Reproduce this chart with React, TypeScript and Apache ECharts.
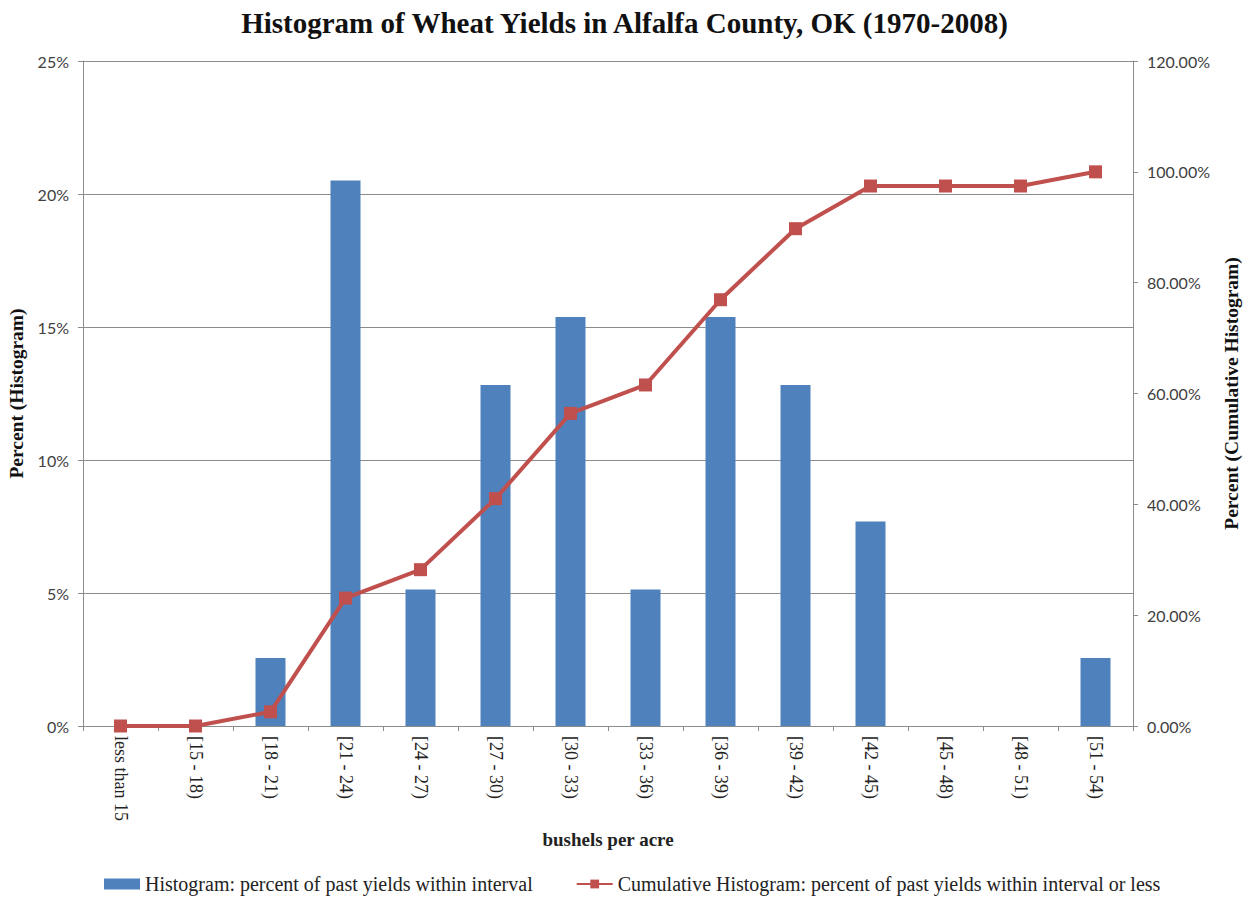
import React, { useEffect, useRef } from "react";
import * as echarts from "echarts";

// Yield intervals (bushels per acre)
const categories = [
  "less than 15",
  "[15 - 18)",
  "[18 - 21)",
  "[21 - 24)",
  "[24 - 27)",
  "[27 - 30)",
  "[30 - 33)",
  "[33 - 36)",
  "[36 - 39)",
  "[39 - 42)",
  "[42 - 45)",
  "[45 - 48)",
  "[48 - 51)",
  "[51 - 54)",
];

// Percent of the 39 seasons (1970-2008) falling in each interval
const histogramPct = [
  0, 0, 2.56, 20.51, 5.13, 12.82, 15.38, 5.13, 15.38, 12.82, 7.69, 0, 0, 2.56,
];

// Running total of the histogram
const cumulativePct = [
  0, 0, 2.56, 23.08, 28.21, 41.03, 56.41, 61.54, 76.92, 89.74, 97.44, 97.44,
  97.44, 100,
];

const SERIF = "Liberation Serif";
const SANS = "Lato";

export default function App() {
  const ref = useRef<HTMLDivElement>(null);

  useEffect(() => {
    if (!ref.current) return;
    const chart = echarts.init(ref.current, undefined, { renderer: "svg" });
    chart.setOption({
      animation: false,
      backgroundColor: "#ffffff",
      title: {
        text: "Histogram of Wheat Yields in Alfalfa County, OK (1970-2008)",
        left: "center",
        top: 3,
        textStyle: {
          fontFamily: SERIF,
          fontSize: 29,
          fontWeight: "bold",
          color: "#111111",
        },
      },
      grid: {
        left: 83,
        right: 116,
        top: 61,
        bottom: 175,
        containLabel: false,
        outerBoundsMode: "none",
      },
      legend: {
        bottom: 2,
        left: 99,
        itemGap: 43,
        itemWidth: 36,
        itemHeight: 11,
        textStyle: { fontFamily: SERIF, fontSize: 20, color: "#222222" },
        data: [
          {
            name: "Histogram: percent of past yields within interval",
            icon: "rect",
          },
          {
            name: "Cumulative Histogram: percent of past yields within interval or less",
          },
        ],
      },
      xAxis: {
        type: "category",
        data: categories,
        name: "bushels per acre",
        nameLocation: "middle",
        nameGap: 104,
        nameTextStyle: {
          fontFamily: SERIF,
          fontSize: 19,
          fontWeight: "bold",
          color: "#222222",
        },
        axisLine: { lineStyle: { color: "#8c8c8c", width: 1 } },
        axisTick: { show: true, length: 5, lineStyle: { color: "#8c8c8c" } },
        axisLabel: {
          rotate: -90,
          margin: 10,
          fontFamily: SERIF,
          fontSize: 18,
          color: "#222222",
        },
      },
      yAxis: [
        {
          type: "value",
          min: 0,
          max: 25,
          interval: 5,
          name: "Percent (Histogram)",
          nameLocation: "middle",
          nameGap: 57,
          nameTextStyle: {
            fontFamily: SERIF,
            fontSize: 19.5,
            fontWeight: "bold",
            color: "#111111",
          },
          axisLine: { show: true, lineStyle: { color: "#8c8c8c" } },
          axisTick: { show: true, length: 5, lineStyle: { color: "#8c8c8c" } },
          axisLabel: {
            formatter: "{value}%",
            fontFamily: SANS,
            fontSize: 16,
            color: "#404040",
            margin: 14,
          },
          splitLine: { lineStyle: { color: "#8c8c8c", width: 1 } },
        },
        {
          type: "value",
          min: 0,
          max: 120,
          interval: 20,
          name: "Percent (Cumulative Histogram)",
          nameLocation: "middle",
          nameGap: 88,
          nameRotate: 90,
          nameTextStyle: {
            fontFamily: SERIF,
            fontSize: 19.5,
            fontWeight: "bold",
            color: "#111111",
          },
          axisLine: { show: true, lineStyle: { color: "#8c8c8c" } },
          axisTick: { show: true, length: 5, lineStyle: { color: "#8c8c8c" } },
          axisLabel: {
            formatter: (v: number) => v.toFixed(2) + "%",
            fontFamily: SANS,
            fontSize: 16,
            color: "#404040",
            margin: 14,
          },
          splitLine: { show: false },
        },
      ],
      series: [
        {
          name: "Histogram: percent of past yields within interval",
          type: "bar",
          yAxisIndex: 0,
          data: histogramPct,
          barWidth: 30,
          itemStyle: { color: "#4F81BD" },
        },
        {
          name: "Cumulative Histogram: percent of past yields within interval or less",
          type: "line",
          yAxisIndex: 1,
          data: cumulativePct,
          symbol: "rect",
          symbolSize: 13,
          lineStyle: { color: "#C0504D", width: 4 },
          itemStyle: { color: "#C0504D" },
        },
      ],
    });
    return () => chart.dispose();
  }, []);

  return (
    <div
      ref={ref}
      style={{ position: "fixed", left: 0, top: 0, width: 1249, height: 901 }}
    />
  );
}
